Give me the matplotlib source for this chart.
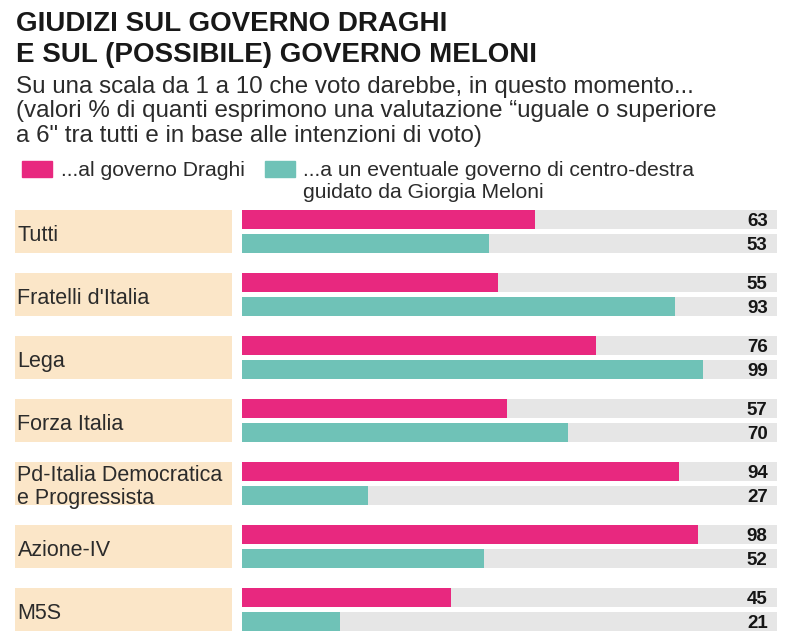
import matplotlib.pyplot as plt

# Data
categories = ['Tutti', "Fratelli d'Italia", 'Lega', 'Forza Italia',
              'Pd-Italia Democratica\ne Progressista', 'Azione-IV', 'M5S']
draghi = [63, 55, 76, 57, 94, 98, 45]
meloni = [53, 93, 99, 70, 27, 52, 21]

PINK = '#e8287f'
TEAL = '#6fc2b7'
GRAY = '#e6e6e6'
BEIGE = '#fbe6c8'
TXT = '#2b2b2b'

plt.rcParams['font.family'] = ['Liberation Sans', 'DejaVu Sans']

fig = plt.figure(figsize=(8, 6.44), dpi=100)
W, H = 800, 644
ax = fig.add_axes([242 / W, 3 / H, (777 - 242) / W, 441 / H])

n = len(categories)
ys = list(range(n))
xmax = 115
ax.set_xlim(0, xmax)
ax.set_ylim(n - 0.5, -0.5)

bh = 0.31
off = 0.19
ax.barh([y - off for y in ys], [xmax] * n, height=bh, color=GRAY, zorder=1)
ax.barh([y + off for y in ys], [xmax] * n, height=bh, color=GRAY, zorder=1)
ax.barh([y - off for y in ys], draghi, height=bh, color=PINK, zorder=2)
ax.barh([y + off for y in ys], meloni, height=bh, color=TEAL, zorder=2)

# beige label boxes
px = xmax / (777 - 242)
box_l = (15 - 242) * px
box_w = (232 - 15) * px
ax.barh(ys, [box_w] * n, left=box_l, height=0.69, color=BEIGE,
        clip_on=False, zorder=1)

for y, cat, d, m in zip(ys, categories, draghi, meloni):
    ax.text(box_l + 2.5 * px, y + 0.06, cat, ha='left', va='center',
            fontsize=15.5, color=TXT, linespacing=1.1)
    ax.text(113, y - off, str(d), ha='right', va='center_baseline',
            fontsize=13.5, fontweight='bold', color='#151515')
    ax.text(113, y + off, str(m), ha='right', va='center_baseline',
            fontsize=13.5, fontweight='bold', color='#151515')

ax.axis('off')

# Title and subtitle (baselines in pixels from the top)
fig.text(16 / W, 1 - 31 / H, 'GIUDIZI SUL GOVERNO DRAGHI', fontsize=20,
         fontweight='bold', va='baseline', ha='left', color='#181818')
fig.text(16 / W, 1 - 62 / H, 'E SUL (POSSIBILE) GOVERNO MELONI', fontsize=20,
         fontweight='bold', va='baseline', ha='left', color='#181818')
subtitle = ['Su una scala da 1 a 10 che voto darebbe, in questo momento...',
            '(valori % di quanti esprimono una valutazione \u201cuguale o superiore',
            'a 6" tra tutti e in base alle intenzioni di voto)']
for i, line in enumerate(subtitle):
    fig.text(16 / W, 1 - (93 + 24.5 * i) / H, line, fontsize=17.4,
             va='baseline', ha='left', color=TXT)

# Legend
fig.patches.append(plt.Rectangle((22 / W, 1 - 177 / H), 30 / W, 16 / H,
                                 transform=fig.transFigure, color=PINK))
fig.text(61 / W, 1 - 176 / H, '...al governo Draghi', fontsize=15.2,
         va='baseline', ha='left', color=TXT)
fig.patches.append(plt.Rectangle((265 / W, 1 - 177 / H), 30 / W, 16 / H,
                                 transform=fig.transFigure, color=TEAL))
fig.text(303 / W, 1 - 176 / H, '...a un eventuale governo di centro-destra',
         fontsize=15.2, va='baseline', ha='left', color=TXT)
fig.text(303 / W, 1 - 198 / H, 'guidato da Giorgia Meloni',
         fontsize=15.2, va='baseline', ha='left', color=TXT)

fig.savefig('out.png', dpi=100)
